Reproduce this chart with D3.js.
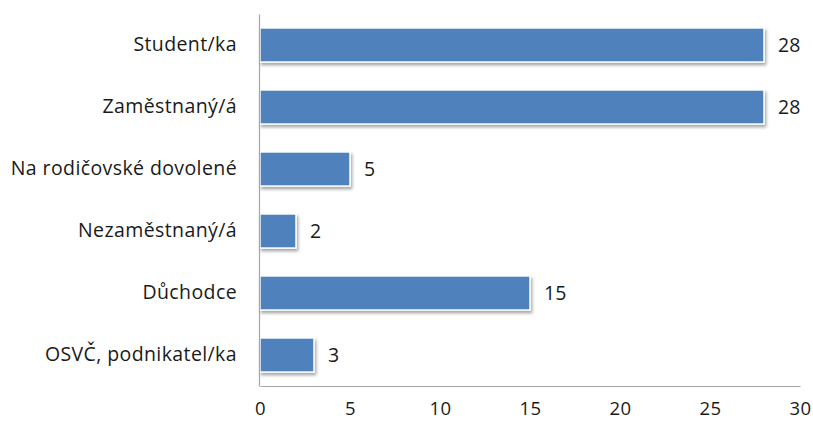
<!DOCTYPE html>
<html><head><meta charset="utf-8">
<script src="https://cdn.jsdelivr.net/npm/d3@7"></script>
<style>body{margin:0;background:#fff}svg{display:block}</style>
</head><body>
<svg id="c" width="813" height="421"></svg>
<script>
const categories = ["Student/ka","Zaměstnaný/á","Na rodičovské dovolené","Nezaměstnaný/á","Důchodce","OSVČ, podnikatel/ka"];
const values = [28,28,5,2,15,3];
const xTicks = [0,5,10,15,20,25,30];

const svg = d3.select("#c");
const mLeft = 260, mRight = 800, mTop = 14, mBottom = 386;
const font = "'Open Sans', sans-serif";
const fs = 19.5;

const x = d3.scaleLinear().domain([0,30]).range([mLeft,mRight]);
const y = d3.scaleBand().domain(categories).range([mTop,mBottom]).paddingInner(0.45).paddingOuter(0.225);

const defs = svg.append("defs");
const f = defs.append("filter").attr("id","sh").attr("x","-10%").attr("y","-30%").attr("width","130%").attr("height","180%");
f.append("feDropShadow").attr("dx",1.5).attr("dy",2.5).attr("stdDeviation",1.6).attr("flood-color","#000").attr("flood-opacity",0.35);

// bars
svg.append("g").selectAll("rect").data(values).join("rect")
  .attr("x", x(0))
  .attr("y", (d,i)=>y(categories[i]))
  .attr("width", d=>x(d)-x(0))
  .attr("height", y.bandwidth())
  .attr("fill","#4F81BD")
  .attr("stroke","#fff").attr("stroke-width",1.5)
  .attr("filter","url(#sh)");

// axes
const xa = svg.append("g").attr("transform",`translate(0,${mBottom})`)
  .call(d3.axisBottom(x).tickValues(xTicks).tickSize(0).tickPadding(15.5));
xa.select(".domain").attr("stroke","#a6a6a6").attr("stroke-width",1.2);
xa.selectAll("text").attr("font-family",font).attr("font-size",18.5).attr("fill","#1a1a1a").attr("letter-spacing","0.5px");

const ya = svg.append("g").attr("transform",`translate(${mLeft-1},0)`)
  .call(d3.axisLeft(y).tickSize(0).tickPadding(22));
ya.select(".domain").attr("stroke","#a6a6a6").attr("stroke-width",1.2);
ya.selectAll("text").attr("font-family",font).attr("font-size",fs).attr("fill","#1a1a1a").attr("letter-spacing","0.4px");

// value labels
svg.append("g").selectAll("text").data(values).join("text")
  .attr("x", d=>x(d)+14)
  .attr("y", (d,i)=>y(categories[i])+y.bandwidth()/2)
  .attr("dy","0.35em")
  .attr("font-family",font).attr("font-size",fs).attr("fill","#1a1a1a")
  .text(d=>d);
</script>
</body></html>
